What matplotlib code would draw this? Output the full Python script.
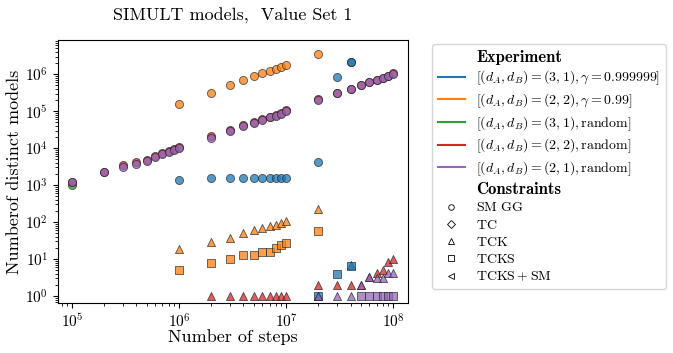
import numpy as np
import matplotlib
matplotlib.use("Agg")
import matplotlib.pyplot as plt
from matplotlib.lines import Line2D

plt.rcParams["font.family"] = "serif"
plt.rcParams["font.serif"] = ["cmr10"]
plt.rcParams["mathtext.fontset"] = "cm"
plt.rcParams["axes.formatter.use_mathtext"] = True

# step grids
steps_a = [1e5, 2e5, 3e5, 4e5, 5e5, 6e5, 7e5, 8e5, 9e5, 1e6]
steps_b = [2e6, 3e6, 4e6, 5e6, 6e6, 7e6, 8e6, 9e6, 1e7]
steps_c = [2e7, 3e7, 4e7, 5e7, 6e7, 7e7, 8e7, 9e7, 1e8]

# (3,1), gamma = 0.999999
blue_circle_x = [1e6] + steps_b + [2e7, 3e7, 4e7, 4e7]
blue_circle_y = [1.4e3, 1.6e3, 1.6e3, 1.6e3, 1.6e3, 1.6e3, 1.6e3, 1.6e3, 1.6e3, 1.6e3,
                 4.3e3, 8.3e5, 2.1e6, 2.2e6]
blue_tri_x = [2e7, 4e7]
blue_tri_y = [1, 6.8]
blue_sq_x = [2e7, 3e7, 4e7]
blue_sq_y = [1, 4, 6.3]

# (2,2), gamma = 0.99
orange_x = [1e6] + steps_b + [2e7]
orange_circle_y = [1.6e5, 3.2e5, 5.2e5, 6.9e5, 8.9e5, 1.07e6, 1.2e6, 1.35e6, 1.6e6, 1.75e6, 3.5e6]
orange_tri_y = [18.7, 29, 38, 50, 60, 68, 78, 83, 94, 107, 223]
orange_sq_y = [5.1, 8, 10, 13, 13, 15, 15, 20, 24, 27, 58]

# (3,1), random
green_circle_x = [1e5]
green_circle_y = [1.0e3]

# (2,2), random
red_circle_x = steps_a + steps_b + steps_c
red_circle_y = [1.2e3, 2.3e3, 3.5e3, 4.2e3, 4.8e3, 6.3e3, 7.4e3, 8.4e3, 9.4e3, 1.05e4,
                2.1e4, 3.1e4, 4.3e4, 5.1e4, 6.1e4, 7.1e4, 7.8e4, 8.9e4, 1.05e5,
                2.1e5, 3.2e5, 4.1e5, 5.1e5, 6.1e5, 7.0e5, 8.0e5, 9.0e5, 1.05e6]
red_tri_x = steps_b + steps_c
red_tri_y = [1, 1, 1, 1, 1, 1, 1, 1, 1,
             2, 2, 2, 2, 3.2, 4.2, 5.1, 8.1, 10]

# (2,1), random
purple_circle_x = steps_a + steps_b + steps_c
purple_circle_y = [1.2e3, 2.2e3, 3.0e3, 3.8e3, 4.6e3, 5.9e3, 7.0e3, 8.0e3, 9.0e3, 1.0e4,
                   1.9e4, 2.9e4, 4.0e4, 4.8e4, 5.8e4, 6.8e4, 7.4e4, 8.5e4, 1.0e5,
                   2.0e5, 3.1e5, 4.0e5, 5.0e5, 6.0e5, 6.9e5, 7.9e5, 8.9e5, 1.0e6]
purple_tri_x = steps_c
purple_tri_y = [1, 1, 1, 2, 3.2, 3.1, 3.1, 4.2, 4.2]
purple_sq_x = [5e7, 6e7, 7e7, 8e7, 9e7, 1e8]
purple_sq_y = [1, 1, 1, 1, 1, 1]

experiments = [
    r"$[(d_A, d_B) = (3, 1), \gamma = 0.999999]$",
    r"$[(d_A, d_B) = (2, 2), \gamma = 0.99]$",
    r"$[(d_A, d_B) = (3, 1), \mathrm{random}]$",
    r"$[(d_A, d_B) = (2, 2), \mathrm{random}]$",
    r"$[(d_A, d_B) = (2, 1), \mathrm{random}]$",
]
colors = ["tab:blue", "tab:orange", "tab:green", "tab:red", "tab:purple"]
constraints = [r"$\mathrm{SM\ GG}$", r"$\mathrm{TC}$", r"$\mathrm{TCK}$",
               r"$\mathrm{TCKS}$", r"$\mathrm{TCKS} + \mathrm{SM}$"]
markers = ["o", "D", "^", "s", "<"]

fig = plt.figure(figsize=(6.73, 3.53), dpi=100)
ax = fig.add_axes([0.086, 0.142, 0.520, 0.745])

kw = dict(s=34, alpha=0.75, edgecolors="#222222", linewidths=0.6)
series = [
    (blue_circle_x, blue_circle_y, 0, "o"),
    (blue_tri_x, blue_tri_y, 0, "^"),
    (blue_sq_x, blue_sq_y, 0, "s"),
    (orange_x, orange_circle_y, 1, "o"),
    (orange_x, orange_tri_y, 1, "^"),
    (orange_x, orange_sq_y, 1, "s"),
    (green_circle_x, green_circle_y, 2, "o"),
    (red_circle_x, red_circle_y, 3, "o"),
    (red_tri_x, red_tri_y, 3, "^"),
    (purple_circle_x, purple_circle_y, 4, "o"),
    (purple_tri_x, purple_tri_y, 4, "^"),
    (purple_sq_x, purple_sq_y, 4, "s"),
]
for x, y, ci, m in series:
    ax.scatter(x, y, color=colors[ci], marker=m, **kw)

ax.set_xscale("log")
ax.set_yscale("log")
ax.set_xlim(7.4e4, 1.37e8)
ax.set_ylim(0.65, 8.5e6)
ax.tick_params(labelsize=11)
ax.set_xlabel("Number of steps", fontsize=13, labelpad=-1)
ax.set_ylabel("Numberof distinct models", fontsize=13, labelpad=2)
ax.set_title("SIMULT models,  Value Set 1", fontsize=13, pad=14)

handles = [Line2D([], [], linestyle="none", marker="none")]
labels = ["Experiment"]
for c, lab in zip(colors, experiments):
    handles.append(Line2D([], [], color=c, lw=1.5))
    labels.append(lab)
handles.append(Line2D([], [], linestyle="none", marker="none"))
labels.append("Constraints")
for m, lab in zip(markers, constraints):
    handles.append(Line2D([], [], linestyle="none", marker=m, markersize=4,
                          markerfacecolor="none", markeredgecolor="k",
                          markeredgewidth=0.6))
    labels.append(lab)

leg = fig.legend(handles, labels, loc="upper left",
                 bbox_to_anchor=(432 / 673, 1 - 44 / 353),
                 borderaxespad=0, fontsize=10, labelspacing=0.3)
for t in leg.get_texts():
    if t.get_text() in ("Experiment", "Constraints"):
        t.set_fontfamily("cmb10")
        t.set_fontsize(12)

fig.savefig("out.png", dpi=100)
